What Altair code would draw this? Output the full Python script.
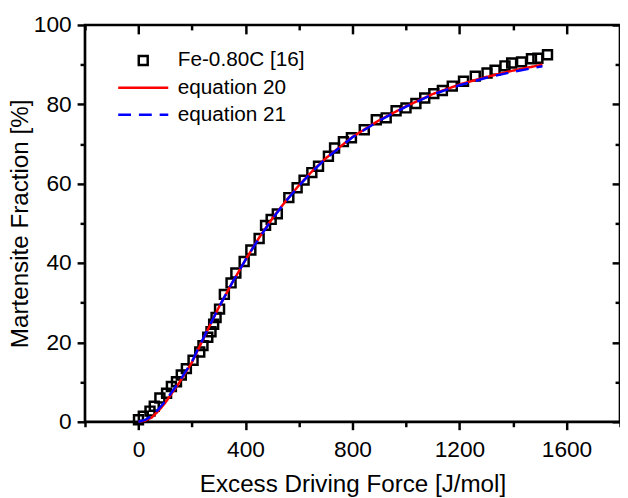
import altair as alt
import pandas as pd

# Experimental data: Fe-0.80C [16]
exp_x = [0, 18, 43, 59, 80, 105, 123, 142, 160, 179, 204, 229, 241, 259, 271, 281,
         290, 303, 321, 346, 364, 395, 420, 451, 475, 496, 519, 562, 593, 619, 648,
         673, 710, 733, 766, 796, 844, 889, 926, 963, 1000, 1037, 1070, 1104, 1136,
         1173, 1215, 1259, 1303, 1333, 1370, 1395, 1432, 1469, 1493, 1529]
exp_y = [0.5, 1.4, 2.7, 3.9, 6.0, 7.2, 8.9, 10.1, 11.8, 13.4, 15.5, 17.6, 19.2, 21.3,
         22.7, 24.6, 26.3, 28.4, 32.1, 35.0, 37.5, 40.4, 43.3, 46.2, 49.5, 51.0, 52.4,
         56.5, 59.0, 60.9, 62.8, 64.4, 66.9, 69.0, 70.6, 71.6, 73.6, 76.1, 76.6, 78.4,
         79.1, 80.2, 81.6, 82.7, 83.5, 84.6, 85.8, 87.1, 87.9, 88.6, 89.7, 90.4, 90.7,
         91.5, 91.6, 92.5]

# Model curves
fit_x = [0, 25, 50, 75, 100, 150, 200, 250, 300, 350, 400, 450, 500, 550, 600, 650,
         700, 800, 900, 1000, 1100, 1200, 1300, 1400, 1510]
eq20_y = [0, 0.3, 1.1, 2.8, 4.8, 9.6, 15.0, 22.0, 28.8, 35.0, 40.8, 46.3, 51.2, 55.6,
          59.6, 63.2, 66.4, 71.8, 76.0, 79.5, 82.6, 85.0, 86.9, 88.5, 90.0]
eq21_y = [0, 0.5, 1.5, 3.2, 5.2, 9.9, 15.2, 22.1, 28.8, 35.0, 40.8, 46.2, 51.1, 55.5,
          59.5, 63.1, 66.3, 71.7, 75.9, 79.4, 82.5, 84.8, 86.7, 88.2, 89.6]

series_names = ["Fe-0.80C [16]", "equation 20", "equation 21"]
series_colors = ["#000000", "#ff0000", "#0000ff"]

x_major = [0, 400, 800, 1200, 1600]
x_minor = [-200, 200, 600, 1000, 1400, 1800]
y_major = [0, 20, 40, 60, 80, 100]
y_minor = [10, 30, 50, 70, 90]

FONT = "Liberation Sans"
LINE_PATH = "M-5.6,0H5.6"

pts = pd.DataFrame({"x": exp_x, "y": exp_y, "s": series_names[0]})
red = pd.DataFrame({"x": fit_x, "y": eq20_y, "s": series_names[1]})
blue = pd.DataFrame({"x": fit_x, "y": eq21_y, "s": series_names[2]})

xscale = alt.Scale(domain=[-200, 1800], nice=False, zero=False)
yscale = alt.Scale(domain=[0, 100], nice=False, zero=False)


def axis(values, size, orient, offset=0, labels=False, title=None, pad=6, tpad=4):
    return alt.Axis(values=values, tickSize=size, orient=orient, offset=offset,
                    labels=labels, title=title, domain=False, grid=False,
                    labelPadding=pad, titlePadding=tpad, format="d")


color = alt.Color("s:N", scale=alt.Scale(domain=series_names, range=series_colors),
                  title=None)
shape = alt.Shape("s:N", scale=alt.Scale(domain=series_names,
                                         range=["square", LINE_PATH, LINE_PATH]),
                  title=None)
dash = alt.StrokeDash("s:N", scale=alt.Scale(domain=series_names,
                                             range=[[1, 0], [1, 0], [13, 8]]),
                      title=None)

l1 = alt.Chart(pts).mark_point(filled=False, size=82, strokeWidth=2.5, opacity=1).encode(
    x=alt.X("x:Q", scale=xscale,
            axis=axis(x_major, 8, "bottom", labels=True,
                      title="Excess Driving Force [J/mol]", pad=9, tpad=12)),
    y=alt.Y("y:Q", scale=yscale,
            axis=axis(y_major, 8, "left", labels=True,
                      title="Martensite Fraction [%]", pad=6, tpad=1)),
    color=color,
    shape=shape,
)

l2 = alt.Chart(red).mark_line(strokeWidth=2.5).encode(
    x=alt.X("x:Q", scale=xscale, axis=axis(x_minor, 5, "bottom")),
    y=alt.Y("y:Q", scale=yscale, axis=axis(y_minor, 5, "left")),
    color=color,
    strokeDash=dash,
)

l3 = alt.Chart(blue).mark_line(strokeWidth=2.5).encode(
    x=alt.X("x:Q", scale=xscale, axis=axis(x_major, 9, "top", offset=-9)),
    y=alt.Y("y:Q", scale=yscale, axis=axis(y_major, 8, "right", offset=-8)),
    color=color,
    strokeDash=dash,
)

l4 = alt.Chart(pts).mark_point(opacity=0).encode(
    x=alt.X("x:Q", scale=xscale, axis=axis(x_minor, 5, "top", offset=-5)),
    y=alt.Y("y:Q", scale=yscale, axis=axis(y_minor, 5, "right", offset=-5)),
)

chart = alt.layer(l1, l2, l3, l4).resolve_axis(
    x="independent", y="independent"
).properties(
    width=542, height=402,
    padding={"left": 78, "top": 14, "right": 0, "bottom": 74},
    autosize=alt.AutoSizeParams(type="none"),
    background="white",
).configure_view(
    stroke="black", strokeWidth=2.7
).configure_axis(
    labelFont=FONT, titleFont=FONT, labelFontSize=23, titleFontSize=24.5,
    titleFontWeight="normal", labelColor="black", titleColor="black",
    tickColor="black", tickWidth=2.5,
).configure_legend(
    orient="none", legendX=48.5, legendY=25.5, padding=0,
    labelFont=FONT, labelFontSize=21, labelColor="black", labelOffset=24.5,
    rowPadding=5.5, symbolSize=82, symbolStrokeWidth=2.5,
)

chart.save("out.html", embed_options={"renderer": "svg", "actions": False})
